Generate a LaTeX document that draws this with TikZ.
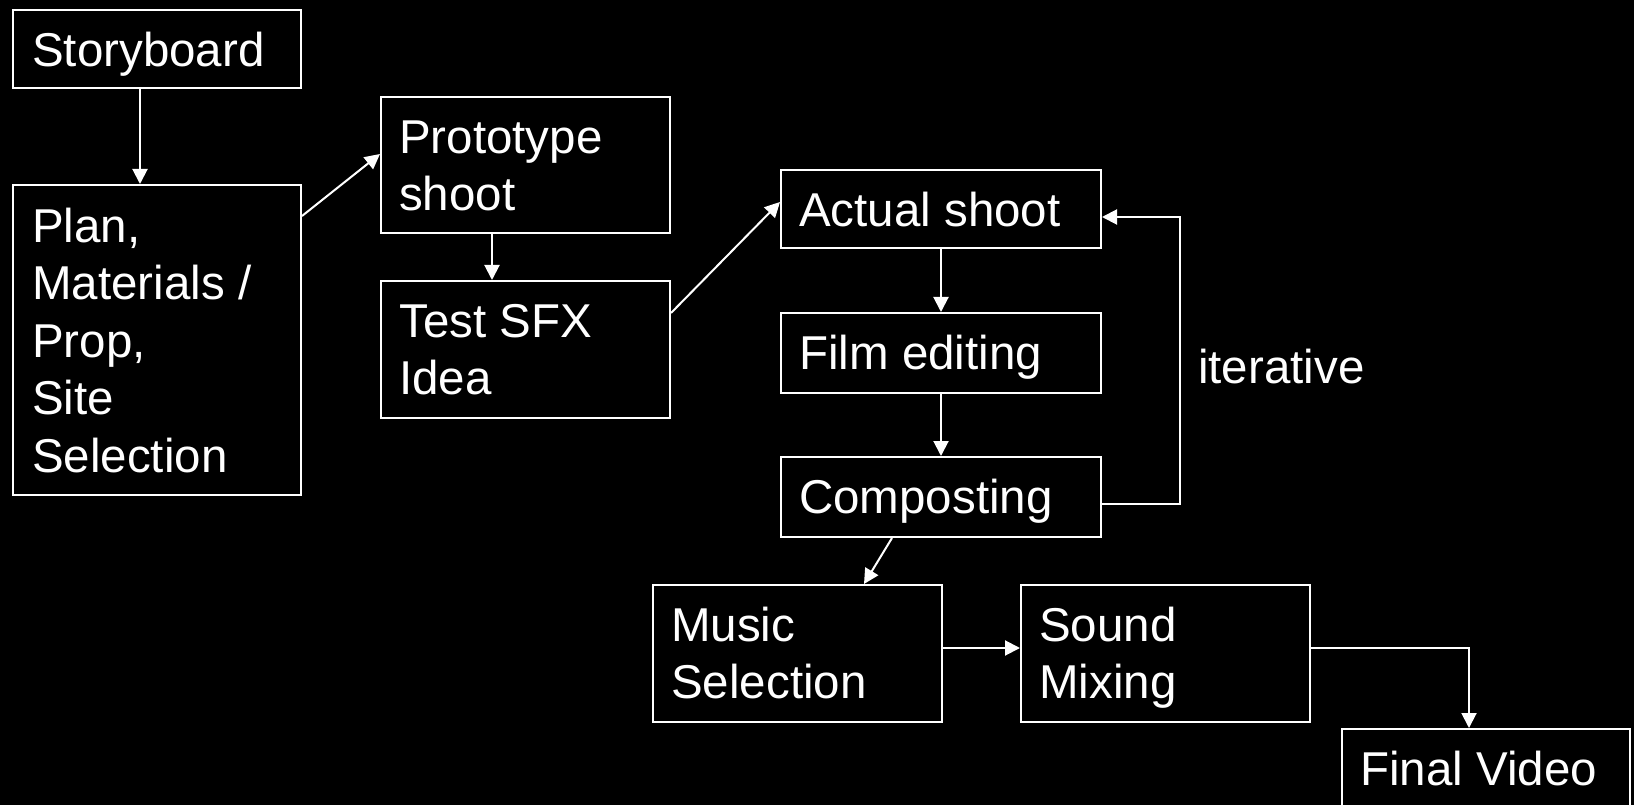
\documentclass[tikz,border=0pt]{standalone}
\usepackage{fontspec}
\setmainfont{Liberation Sans}
\usetikzlibrary{arrows.meta}
\newcommand\mystrut{\rule{0pt}{36pt}}
\begin{document}
\begin{tikzpicture}[x=1pt,y=-1pt,
  box/.style={draw=white, line width=2pt, inner sep=0pt, anchor=north west},
  txt/.style={text=white, inner sep=0pt, anchor=north west, align=left,
    font=\fontsize{47.5pt}{57.5pt}\selectfont},
  arr/.style={draw=white, line width=2pt, -{Triangle[length=15pt,width=15pt]}}]
\useasboundingbox (0,0) rectangle (1634,805);
\fill[black] (0,0) rectangle (1634,805);
% boxes
\node[box, minimum width=288pt, minimum height=78pt]  (sb)    at (12,9) {};
\node[box, minimum width=288pt, minimum height=310pt] (plan)  at (12,184) {};
\node[box, minimum width=289pt, minimum height=136pt] (proto) at (380,96) {};
\node[box, minimum width=289pt, minimum height=137pt] (test)  at (380,280) {};
\node[box, minimum width=320pt, minimum height=78pt]  (act)   at (780,169) {};
\node[box, minimum width=320pt, minimum height=80pt]  (film)  at (780,312) {};
\node[box, minimum width=320pt, minimum height=80pt]  (comp)  at (780,456) {};
\node[box, minimum width=289pt, minimum height=137pt] (music) at (652,584) {};
\node[box, minimum width=289pt, minimum height=137pt] (sound) at (1020,584) {};
\node[box, minimum width=288pt, minimum height=80pt]  (final) at (1341,728) {};
% texts
\node[txt] (sbt)    at ([xshift=20pt,yshift=-21pt]sb.north west)    {\mystrut Storyboard};
\node[txt] (plant)  at ([xshift=20pt,yshift=-22pt]plan.north west)  {\mystrut Plan,\\Materials /\\Prop,\\Site\\Selection};
\node[txt] (protot) at ([xshift=19pt,yshift=-21pt]proto.north west) {\mystrut Prototype\\shoot};
\node[txt] (testt)  at ([xshift=19pt,yshift=-21pt]test.north west)  {\mystrut Test SFX\\Idea};
\node[txt] (actt)   at ([xshift=19pt,yshift=-21pt]act.north west)   {\mystrut Actual shoot};
\node[txt] (filmt)  at ([xshift=19pt,yshift=-21pt]film.north west)  {\mystrut Film editing};
\node[txt] (compt)  at ([xshift=19pt,yshift=-21pt]comp.north west)  {\mystrut Composting};
\node[txt] (musict) at ([xshift=19pt,yshift=-21pt]music.north west) {\mystrut Music\\Selection};
\node[txt] (soundt) at ([xshift=19pt,yshift=-21pt]sound.north west) {\mystrut Sound\\Mixing};
\node[txt] (finalt) at ([xshift=19pt,yshift=-21pt]final.north west) {\mystrut Final Video};
\node[txt, anchor=base west] (iter) at (1198,383) {iterative};
% connectors
\coordinate (loopc) at (1180,217);
\draw[arr] ([xshift=128pt]sb.south west) -- ([xshift=128pt]plan.north west);
\draw[arr] ([yshift=-32pt]plan.north east) -- ([yshift=-58pt]proto.north west);
\draw[arr] ([xshift=112pt]proto.south west) -- ([xshift=112pt]test.north west);
\draw[arr] ([yshift=-33pt]test.north east) -- ([yshift=-33pt]act.north west);
\draw[arr] (act.south) -- (film.north);
\draw[arr] (film.south) -- (comp.north);
\draw[arr] ([yshift=-48pt]comp.north east) -| (loopc) -- ([yshift=-48pt]act.north east);
\draw[arr] ([xshift=112pt]comp.south west) -- ([xshift=212pt]music.north west);
\draw[arr] ([yshift=-64pt]music.north east) -- ([yshift=-64pt]sound.north west);
\draw[arr] ([yshift=-64pt]sound.north east) -| ([xshift=128pt]final.north west);
\end{tikzpicture}
\end{document}
